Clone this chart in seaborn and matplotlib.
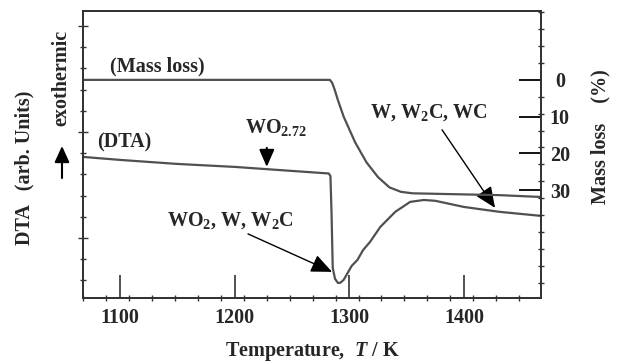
import matplotlib
matplotlib.use('Agg')
import matplotlib.pyplot as plt
import seaborn as sns
import pandas as pd
from matplotlib.ticker import MultipleLocator

# DTA trace (arbitrary units)
temp_dta = [1068, 1100, 1150, 1200, 1250, 1282, 1283.5, 1284.5, 1285.5, 1287.5, 1290, 1292,
            1295, 1298, 1302, 1307, 1312, 1318, 1327, 1340, 1353, 1365, 1375, 1400, 1431, 1467]
dta = [-6.18, -6.32, -6.51, -6.65, -6.84, -6.96, -7.08, -8.92, -11.42, -11.93, -12.12, -12.12,
       -11.98, -11.70, -11.32, -11.04, -10.57, -10.19, -9.48, -8.77, -8.30, -8.21, -8.25, -8.54, -8.77, -8.96]

# mass loss trace (%)
temp_ml = [1068, 1200, 1283, 1285, 1287, 1290, 1295, 1300, 1305, 1315, 1325, 1335, 1345, 1355, 1370, 1400, 1431, 1467]
mass_loss = [0, 0, 0, 0.8, 2.5, 5.5, 10, 13.5, 17, 22.5, 26.5, 29.3, 30.5, 30.9, 31.0, 31.2, 31.4, 31.9]

temp_ticks = [1100, 1200, 1300, 1400]
ml_ticks = [0, 10, 20, 30]

sns.set_theme(style='ticks')
plt.rcParams['font.family'] = ['Liberation Serif', 'DejaVu Serif']
plt.rcParams['font.weight'] = 'bold'
plt.rcParams['axes.labelweight'] = 'bold'
plt.rcParams['mathtext.fontset'] = 'custom'
plt.rcParams['mathtext.rm'] = 'Liberation Serif:bold'
plt.rcParams['mathtext.bf'] = 'Liberation Serif:bold'
plt.rcParams['mathtext.it'] = 'Liberation Serif:bold:italic'

fs = 14.5
line_col = '#505050'
edge_col = '#333333'

df_dta = pd.DataFrame({'T': temp_dta, 'dta': dta})
df_ml = pd.DataFrame({'T': temp_ml, 'ml': mass_loss})

fig = plt.figure(figsize=(6.19, 3.62), dpi=100)
ax = fig.add_axes([0.134, 0.177, 0.740, 0.793])
ax2 = ax.twinx()

sns.lineplot(data=df_dta, x='T', y='dta', ax=ax, color=line_col, lw=1.6, estimator=None, sort=False)
sns.lineplot(data=df_ml, x='T', y='ml', ax=ax2, color=line_col, lw=1.6, estimator=None, sort=False)

ax.set_xlim(1067.7, 1467.1)
ax.set_ylim(-12.83, 0.71)
ax2.set_ylim(59.4, -18.8)

ax.set_xticks(temp_ticks, labels=[str(t) for t in temp_ticks])
ax.xaxis.set_minor_locator(MultipleLocator(20, offset=8))
ax.set_yticks([0, -5, -10])
ax.yaxis.set_minor_locator(MultipleLocator(1))
ax.tick_params(axis='x', which='major', direction='in', length=16.5, width=1.2,
               color=edge_col, pad=7, labelsize=fs)
ax.tick_params(axis='x', which='minor', direction='inout', length=5, width=1, color=edge_col)
ax.tick_params(axis='y', which='major', direction='inout', length=7, width=1, color=edge_col,
               labelleft=False)
ax.tick_params(axis='y', which='minor', direction='inout', length=5, width=1, color=edge_col)

ax2.set_yticks(ml_ticks, labels=[str(v) for v in ml_ticks], ha='center')
ax2.yaxis.set_minor_locator(MultipleLocator(4.6))
ax2.tick_params(axis='y', which='major', direction='in', length=16, width=1.3,
                color='black', pad=13.5, labelsize=fs)
ax2.tick_params(axis='y', which='minor', direction='inout', length=4, width=1, color=edge_col)

for a in (ax, ax2):
    for s in a.spines.values():
        s.set_color(edge_col)
        s.set_linewidth(1.3)

ax.set_xlabel(r'Temperature,  $T$ / K', fontsize=fs, fontweight='bold', labelpad=9)
ax.set_ylabel('')
ax2.set_ylabel('')

fig.text(24 / 619, 1 - 168 / 362, 'DTA   (arb. Units)', rotation=90, ha='center', va='center', fontsize=fs)
fig.text(61 / 619, 1 - 78 / 362, 'exothermic', rotation=90, ha='center', va='center', fontsize=fs)
fig.text(600 / 619, 1 - 137 / 362, 'Mass loss    (%)', rotation=90, ha='center', va='center', fontsize=fs)
ax.annotate('', xy=(62, 362 - 146), xytext=(62, 362 - 178), xycoords='figure pixels',
            textcoords='figure pixels',
            arrowprops=dict(arrowstyle='-|>,head_length=0.7,head_width=0.32', color='black',
                            lw=1.5, mutation_scale=14, shrinkA=0, shrinkB=0))

ax.text(1091, -1.9, '(Mass loss)', ha='left', va='center', fontsize=fs)
ax.text(1080, -5.52, '(DTA)', ha='left', va='center', fontsize=fs)
ax.text(1209, -4.81, r'WO$_{2.72}$', ha='left', va='center', fontsize=fs)
ax.text(1318, -4.1, r'W, W$_2$C, WC', ha='left', va='center', fontsize=fs)
ax.text(1141, -9.2, r'WO$_2$, W, W$_2$C', ha='left', va='center', fontsize=fs)

arrow_kw = dict(arrowstyle='-|>,head_length=0.8,head_width=0.35', color='black',
                lw=1.0, mutation_scale=16, shrinkA=0, shrinkB=0)
ax.annotate('', xy=(1228, -6.65), xytext=(1228, -5.75),
            arrowprops=dict(arrow_kw, lw=1.5, mutation_scale=13))
ax.annotate('', xy=(1427, -8.58), xytext=(1380.8, -4.9), arrowprops=arrow_kw)
ax.annotate('', xy=(1284.9, -11.6), xytext=(1211.6, -9.81), arrowprops=arrow_kw)

fig.savefig('out.png', dpi=100)
